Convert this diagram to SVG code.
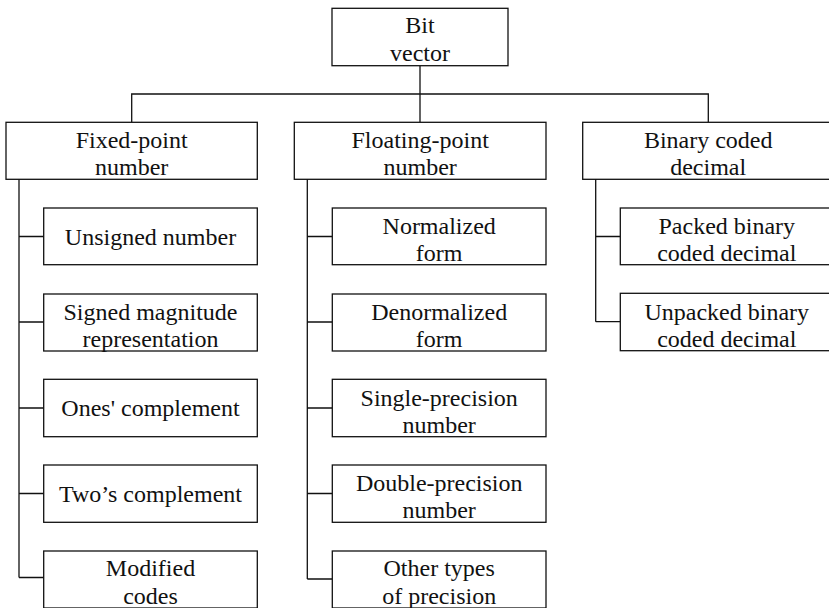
<svg xmlns="http://www.w3.org/2000/svg" width="829" height="608" viewBox="0 0 829 608">
<style>
rect{fill:#fff;stroke:#111;stroke-width:1.3}
.c path{stroke:#111;stroke-width:1.3;fill:none}
.t text{fill:#111;text-anchor:middle;font-family:"Times New Roman","Liberation Serif",Tinos,"Noto Serif","DejaVu Serif",FreeSerif,Times,serif;font-size:24px}
</style>
<rect x="0" y="0" width="829" height="608" style="stroke:none"/>
<g class="c" id="connectors">
<path d="M420,66 V94 M131.7,122 V94 H708.3 V122 M420,94 V122"/>
<path d="M19,179 V577.5 M19,236.5 H44 M19,322 H44 M19,408 H44 M19,493.5 H44 M19,577.5 H44"/>
<path d="M307.3,179 V579 M307.3,236.5 H332.3 M307.3,322 H332.3 M307.3,408 H332.3 M307.3,493.5 H332.3 M307.3,579 H332.3"/>
<path d="M595.7,179 V321.7 M595.7,236.5 H620.3 M595.7,321.7 H620.3"/>
</g>
<g class="t">
<g id="bit-vector"><rect x="332" y="8.3" width="176" height="57.4"/><text x="420" y="33">Bit</text><text x="420" y="61">vector</text></g>
<g id="fixed-point"><rect x="6" y="122.3" width="251.3" height="57"/><text x="131.7" y="148">Fixed-point</text><text x="131.7" y="175">number</text></g>
<g id="floating-point"><rect x="294.3" y="122.3" width="251.7" height="57"/><text x="420.2" y="148">Floating-point</text><text x="420.2" y="175">number</text></g>
<g id="bcd"><rect x="582.7" y="122.3" width="251" height="57"/><text x="708.2" y="148">Binary coded</text><text x="708.2" y="175">decimal</text></g>
<g id="unsigned"><rect x="43.7" y="208" width="213.6" height="56.7"/><text x="150.5" y="244.5">Unsigned number</text></g>
<g id="signed-magnitude"><rect x="43.7" y="294" width="213.6" height="57"/><text x="150.5" y="320">Signed magnitude</text><text x="150.5" y="347">representation</text></g>
<g id="ones-complement"><rect x="43.7" y="379.3" width="213.6" height="57.4"/><text x="150.5" y="416">Ones' complement</text></g>
<g id="twos-complement"><rect x="43.7" y="465" width="213.6" height="57.3"/><text x="150.5" y="502">Two’s complement</text></g>
<g id="modified-codes"><rect x="43.7" y="551" width="213.6" height="57"/><text x="150.5" y="576">Modified</text><text x="150.5" y="603.5">codes</text></g>
<g id="normalized"><rect x="332.3" y="208" width="213.7" height="56.7"/><text x="439.2" y="234">Normalized</text><text x="439.2" y="261">form</text></g>
<g id="denormalized"><rect x="332.3" y="294" width="213.7" height="57"/><text x="439.2" y="320">Denormalized</text><text x="439.2" y="347">form</text></g>
<g id="single-precision"><rect x="332.3" y="379.3" width="213.7" height="57.4"/><text x="439.2" y="405.5">Single-precision</text><text x="439.2" y="432.5">number</text></g>
<g id="double-precision"><rect x="332.3" y="465" width="213.7" height="57.3"/><text x="439.2" y="491">Double-precision</text><text x="439.2" y="518">number</text></g>
<g id="other-precision"><rect x="332.3" y="551" width="213.7" height="57"/><text x="439.2" y="576">Other types</text><text x="439.2" y="603.5">of precision</text></g>
<g id="packed-bcd"><rect x="620.3" y="208" width="213" height="56.7"/><text x="726.8" y="234">Packed binary</text><text x="726.8" y="261">coded decimal</text></g>
<g id="unpacked-bcd"><rect x="620.3" y="293.3" width="213" height="57.4"/><text x="726.8" y="319.5">Unpacked binary</text><text x="726.8" y="346.5">coded decimal</text></g>
</g>
</svg>
